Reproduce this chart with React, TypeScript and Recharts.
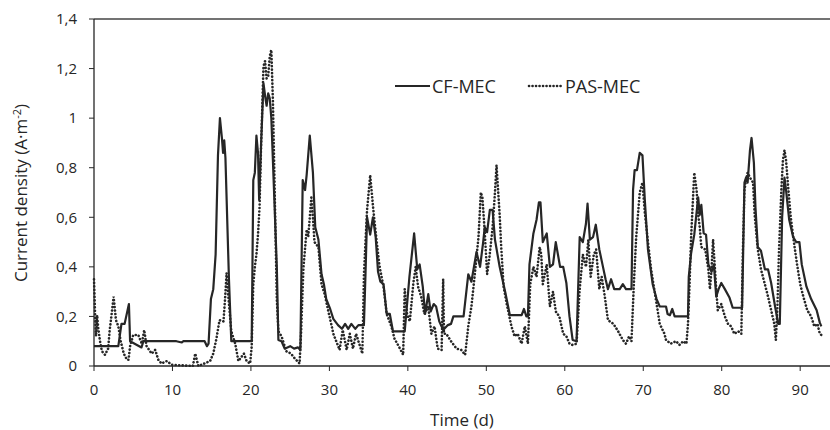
import React from "react";
import { LineChart, Line, XAxis, YAxis, ReferenceLine, Legend } from "recharts";

// CF-MEC (solid) – time in days, current density in A·m-2
const cfTime = [
  0, 3.1, 3.5, 3.9, 4.45, 4.6, 6.05, 6.3, 10.5, 11.2, 11.4, 14.1, 14.4, 14.6, 14.9, 15.2, 15.5, 15.8,
  16.05, 16.3, 16.45, 16.6, 16.75, 17.2, 17.5, 20.1, 20.3, 20.5, 20.7, 20.9, 21.05, 21.3, 21.6, 21.85,
  22.0, 22.2, 22.4, 22.6, 22.8, 23.3, 23.5, 23.9, 24.3, 25.0, 25.5, 26.0, 26.3, 26.6, 26.9, 27.1, 27.5,
  27.9, 28.2, 28.6, 29.0, 29.3, 29.6, 30.1, 30.5, 31.1, 31.6, 32.0, 32.4, 32.8, 33.3, 33.7, 34.4, 34.6,
  34.8, 35.2, 35.55, 35.9, 36.2, 36.5, 36.9, 37.3, 37.7, 38.1, 39.6, 40.2, 40.8, 41.2, 41.5, 41.9, 42.2,
  42.6, 42.9, 43.3, 43.6, 44.0, 44.5, 45.1, 45.5, 45.8, 47.1, 47.7, 48.1, 48.75, 49.2, 49.6, 49.8, 50.1,
  50.45, 50.8, 51.1, 51.7, 52.4, 53.0, 54.5, 54.8, 55.1, 55.3, 55.5, 56.0, 56.4, 56.7, 56.9, 57.2, 57.7,
  58.1, 58.5, 58.85, 59.4, 59.8, 60.2, 60.6, 61.0, 61.5, 61.9, 62.3, 62.7, 62.9, 63.2, 63.6, 63.95, 64.4,
  64.8, 65.2, 65.5, 65.9, 66.3, 67.0, 67.4, 67.8, 68.5, 68.7, 68.9, 69.2, 69.55, 69.9, 70.2, 70.6, 71.2,
  71.7, 72.1, 72.9, 73.1, 73.4, 73.7, 74.0, 75.7, 75.8, 76.1, 76.5, 77.0, 77.2, 77.4, 77.7, 78.0, 78.3,
  78.7, 79.0, 79.3, 79.6, 79.95, 80.4, 81.0, 81.4, 82.6, 82.9, 83.1, 83.3, 83.6, 83.8, 84.1, 84.3, 84.6,
  85.0, 85.5, 85.9, 86.3, 86.8, 87.2, 87.4, 87.7, 88.0, 88.2, 88.6, 89.1, 89.5, 89.9, 90.2, 90.8, 91.4,
  92.1, 92.5, 92.7,
];
const cfValues = [
  0.08, 0.08, 0.17, 0.17, 0.25, 0.1, 0.075, 0.1, 0.1, 0.095, 0.1, 0.1, 0.08, 0.09, 0.27, 0.31, 0.45, 0.85,
  1.0, 0.92, 0.86, 0.91, 0.84, 0.35, 0.1, 0.1, 0.75, 0.78, 0.93, 0.86, 0.67, 0.9, 1.14, 1.08,
  1.05, 1.1, 1.08, 1.0, 0.83, 0.4, 0.105, 0.1, 0.07, 0.08, 0.07, 0.075, 0.065, 0.75, 0.71, 0.77, 0.93,
  0.78, 0.56, 0.51, 0.37, 0.33, 0.27, 0.23, 0.19, 0.165, 0.15, 0.17, 0.15, 0.17, 0.15, 0.165, 0.165, 0.37,
  0.6, 0.53, 0.6, 0.52, 0.38, 0.34, 0.33, 0.21, 0.21, 0.14, 0.14, 0.36, 0.535, 0.39, 0.41, 0.32, 0.21,
  0.29, 0.22, 0.25, 0.24, 0.18, 0.145, 0.165, 0.17, 0.2, 0.2, 0.37, 0.34, 0.46, 0.4, 0.5, 0.56, 0.54,
  0.63, 0.63, 0.51, 0.4, 0.3, 0.205, 0.205, 0.23, 0.2, 0.2, 0.41, 0.535, 0.59, 0.66, 0.66, 0.5, 0.535,
  0.4, 0.41, 0.5, 0.4, 0.4, 0.335, 0.2, 0.105, 0.1, 0.52, 0.5, 0.575, 0.655, 0.51, 0.52, 0.57, 0.47,
  0.41, 0.35, 0.31, 0.35, 0.31, 0.31, 0.33, 0.31, 0.31, 0.71, 0.79, 0.79, 0.86, 0.85, 0.67, 0.47, 0.33,
  0.27, 0.24, 0.24, 0.21, 0.205, 0.23, 0.2, 0.2, 0.36, 0.455, 0.53, 0.68, 0.61, 0.65, 0.535, 0.53, 0.41,
  0.38, 0.41, 0.28, 0.31, 0.335, 0.31, 0.275, 0.235, 0.235, 0.74, 0.76, 0.74, 0.87, 0.92, 0.82, 0.64, 0.48,
  0.465, 0.39, 0.39, 0.335, 0.24, 0.17, 0.17, 0.6, 0.76, 0.71, 0.59, 0.52, 0.5, 0.5, 0.41, 0.32, 0.27,
  0.225, 0.175, 0.16,
];

// PAS-MEC (dotted)
const pasTime = [
  0, 0.15, 0.26, 0.4, 0.55, 0.77, 1.0, 1.4, 1.8, 2.0, 2.25, 2.5, 2.8, 3.1, 3.4, 3.8, 4.2, 4.4, 4.6, 5.0,
  5.65, 6.1, 6.4, 6.7, 7.35, 7.8, 8.2, 8.6, 9.3, 9.9, 12.6, 12.9, 13.3, 14.8, 15.2, 15.6, 16.0, 16.5,
  16.7, 16.9, 17.1, 17.5, 18.0, 18.4, 19.1, 19.45, 19.9, 20.1, 20.3, 20.5, 20.7, 20.9, 21.1, 21.3, 21.6,
  21.8, 22.0, 22.2, 22.4, 22.6, 22.8, 23.05, 23.3, 23.5, 23.9, 24.5, 25.1, 25.6, 26.2, 26.4, 26.7, 27.1,
  27.3, 27.7, 27.9, 28.1, 28.6, 29.0, 29.4, 29.8, 30.3, 30.5, 31.3, 31.7, 32.2, 32.6, 33.0, 33.4, 33.9,
  34.2, 34.4, 34.8, 35.2, 35.6, 36.0, 36.4, 36.9, 37.3, 37.9, 38.3, 39.0, 39.4, 39.6, 39.9, 40.25, 40.7,
  41.0, 41.3, 41.7, 42.1, 42.6, 43.0, 43.4, 43.8, 44.3, 44.5, 44.6, 44.9, 45.5, 46.2, 46.8, 47.3, 47.7,
  48.1, 48.5, 49.0, 49.3, 49.5, 49.8, 50.1, 50.4, 50.8, 51.1, 51.3, 51.7, 51.9, 52.2, 52.6, 53.2, 53.6,
  54.0, 54.5, 54.9, 55.3, 55.6, 56.0, 56.4, 56.8, 57.0, 57.2, 57.7, 58.1, 58.5, 58.85, 59.3, 59.8, 60.2,
  60.6, 61.0, 61.5, 61.9, 62.3, 62.7, 63.0, 63.3, 63.7, 64.0, 64.4, 64.7, 65.1, 65.5, 66.2, 66.8, 67.4,
  67.8, 68.2, 68.5, 68.8, 69.1, 69.55, 69.9, 70.2, 70.6, 71.0, 71.7, 72.1, 72.7, 72.9, 73.5, 74.2, 74.6,
  75.1, 75.5, 75.7, 75.9, 76.1, 76.3, 76.5, 76.8, 77.0, 77.2, 77.4, 77.9, 78.3, 78.5, 78.7, 78.9, 79.1,
  79.3, 79.5, 79.95, 80.4, 80.8, 81.2, 81.6, 82.1, 82.5, 82.7, 82.9, 83.1, 83.3, 83.6, 84.0, 84.2, 84.6,
  85.0, 85.5, 85.9, 86.3, 86.7, 86.9, 87.1, 87.3, 87.6, 87.8, 88.0, 88.2, 88.5, 88.8, 89.2, 89.6, 90.0,
  90.4, 90.9, 91.4, 91.8, 92.2, 92.5, 92.7,
];
const pasValues = [
  0.35, 0.2, 0.12, 0.205, 0.15, 0.1, 0.06, 0.045, 0.07, 0.145, 0.21, 0.28, 0.185, 0.16, 0.1, 0.05, 0.025, 0.025, 0.08, 0.125,
  0.125, 0.09, 0.145, 0.08, 0.05, 0.065, 0.025, 0.01, 0.02, 0.005, 0, 0.05, 0, 0.02, 0.05, 0.11, 0.185, 0.18,
  0.27, 0.375, 0.29, 0.14, 0.09, 0.02, 0.05, 0.02, 0.01, 0.08, 0.33, 0.4, 0.45, 0.53, 0.64, 0.89, 1.21,
  1.23, 1.16, 1.17, 1.25, 1.275, 1.07, 0.67, 0.27, 0.14, 0.12, 0.06, 0.05, 0.03, 0.01, 0.14, 0.4, 0.55,
  0.52, 0.68, 0.6, 0.5, 0.48, 0.33, 0.29, 0.23, 0.16, 0.13, 0.065, 0.145, 0.065, 0.13, 0.07, 0.13, 0.08,
  0.05, 0.37, 0.63, 0.77, 0.63, 0.51, 0.4, 0.32, 0.21, 0.16, 0.11, 0.07, 0.045, 0.31, 0.21, 0.18, 0.335,
  0.4, 0.32, 0.28, 0.21, 0.24, 0.13, 0.16, 0.07, 0.065, 0.35, 0.13, 0.13, 0.1, 0.07, 0.065, 0.045, 0.16,
  0.24, 0.36, 0.52, 0.7, 0.68, 0.54, 0.37, 0.44, 0.56, 0.7, 0.81, 0.61, 0.48, 0.32, 0.25, 0.16, 0.12,
  0.13, 0.09, 0.16, 0.09, 0.33, 0.4, 0.36, 0.48, 0.45, 0.33, 0.41, 0.24, 0.3, 0.22, 0.2, 0.13, 0.12,
  0.09, 0.085, 0.09, 0.31, 0.45, 0.4, 0.51, 0.36, 0.45, 0.47, 0.31, 0.36, 0.28, 0.185, 0.17, 0.14, 0.105,
  0.09, 0.12, 0.1, 0.33, 0.52, 0.7, 0.74, 0.62, 0.5, 0.39, 0.25, 0.17, 0.13, 0.105, 0.09, 0.1, 0.085,
  0.1, 0.09, 0.17, 0.33, 0.52, 0.65, 0.78, 0.71, 0.61, 0.56, 0.48, 0.47, 0.39, 0.31, 0.39, 0.51, 0.41,
  0.31, 0.225, 0.25, 0.2, 0.17, 0.16, 0.13, 0.14, 0.13, 0.47, 0.71, 0.75, 0.78, 0.76, 0.74, 0.61, 0.47,
  0.39, 0.33, 0.28, 0.225, 0.17, 0.105, 0.24, 0.47, 0.71, 0.83, 0.87, 0.83, 0.71, 0.6, 0.5, 0.41, 0.33,
  0.28, 0.225, 0.2, 0.16, 0.17, 0.13, 0.125,
];

const xTicks = [0, 10, 20, 30, 40, 50, 60, 70, 80, 90];
const yTicks = [0, 0.2, 0.4, 0.6, 0.8, 1, 1.2, 1.4];

const cfData = cfTime.map((t, i) => ({ t, v: cfValues[i] }));
const pasData = pasTime.map((t, i) => ({ t, v: pasValues[i] }));

const INK = "#262626";
const FONT = "'Open Sans', sans-serif";
const DOTS = "0.1 3.4";

const renderLegend = (props: any) => {
  const items = props.payload || [];
  const cf = items.find((p: any) => p.value === "CF-MEC");
  const pas = items.find((p: any) => p.value === "PAS-MEC");
  return (
    <svg width={270} height={26} style={{ fontFamily: FONT }}>
      <line x1={5} x2={40} y1={12} y2={12} stroke={cf?.color || INK} strokeWidth={2.2} />
      <text x={42} y={18.5} fontSize={18} fill={INK}>CF-MEC</text>
      <line
        x1={139}
        x2={172}
        y1={12}
        y2={12}
        stroke={pas?.color || INK}
        strokeWidth={2.6}
        strokeDasharray={DOTS}
        strokeLinecap="round"
      />
      <text x={175} y={18.5} fontSize={18} fill={INK}>PAS-MEC</text>
    </svg>
  );
};

const YTitle = () => (
  <text
    transform="translate(27, 193) rotate(-90)"
    textAnchor="middle"
    fontSize={17}
    fill={INK}
    style={{ fontFamily: FONT }}
  >
    Current density (A·m
    <tspan dy={-6} fontSize={11}>-2</tspan>
    <tspan dy={6}>)</tspan>
  </text>
);

export default function App() {
  return (
    <div style={{ position: "absolute", left: 0, top: 0, background: "#fff" }}>
      <LineChart
        width={830}
        height={430}
        margin={{ top: 19, right: 0, bottom: 0, left: 0 }}
        style={{ fontFamily: FONT }}
      >
        <XAxis
          dataKey="t"
          type="number"
          domain={[0, 93.8]}
          ticks={xTicks}
          interval={0}
          height={64}
          tickSize={5}
          tickMargin={13}
          tick={{ fontSize: 15, fill: INK }}
          axisLine={{ stroke: INK, strokeWidth: 1.3 }}
          tickLine={{ stroke: INK }}
          allowDuplicatedCategory={false}
          label={{ value: "Time (d)", position: "insideBottom", offset: 4, fontSize: 17, fill: INK }}
        />
        <YAxis
          type="number"
          domain={[0, 1.4]}
          ticks={yTicks}
          interval={0}
          width={94}
          tickSize={5}
          tickMargin={12}
          tick={{ fontSize: 15, fill: INK }}
          tickFormatter={(v: number) => String(v).replace(".", ",")}
          axisLine={{ stroke: INK, strokeWidth: 1.3 }}
          tickLine={{ stroke: INK }}
          label={{ content: () => <YTitle /> }}
        />
        <ReferenceLine y={1.4} stroke="#444" strokeWidth={1.6} />
        <Legend
          layout="horizontal"
          verticalAlign="middle"
          align="center"
          content={renderLegend}
          wrapperStyle={{ top: 74, left: 390, width: 270, height: 26 }}
        />
        <Line
          name="PAS-MEC"
          data={pasData}
          dataKey="v"
          type="linear"
          stroke={INK}
          strokeWidth={2.6}
          strokeDasharray={DOTS}
          strokeLinecap="round"
          dot={false}
          activeDot={false}
          isAnimationActive={false}
        />
        <Line
          name="CF-MEC"
          data={cfData}
          dataKey="v"
          type="linear"
          stroke={INK}
          strokeWidth={2.2}
          strokeLinejoin="round"
          dot={false}
          activeDot={false}
          isAnimationActive={false}
        />
      </LineChart>
    </div>
  );
}
